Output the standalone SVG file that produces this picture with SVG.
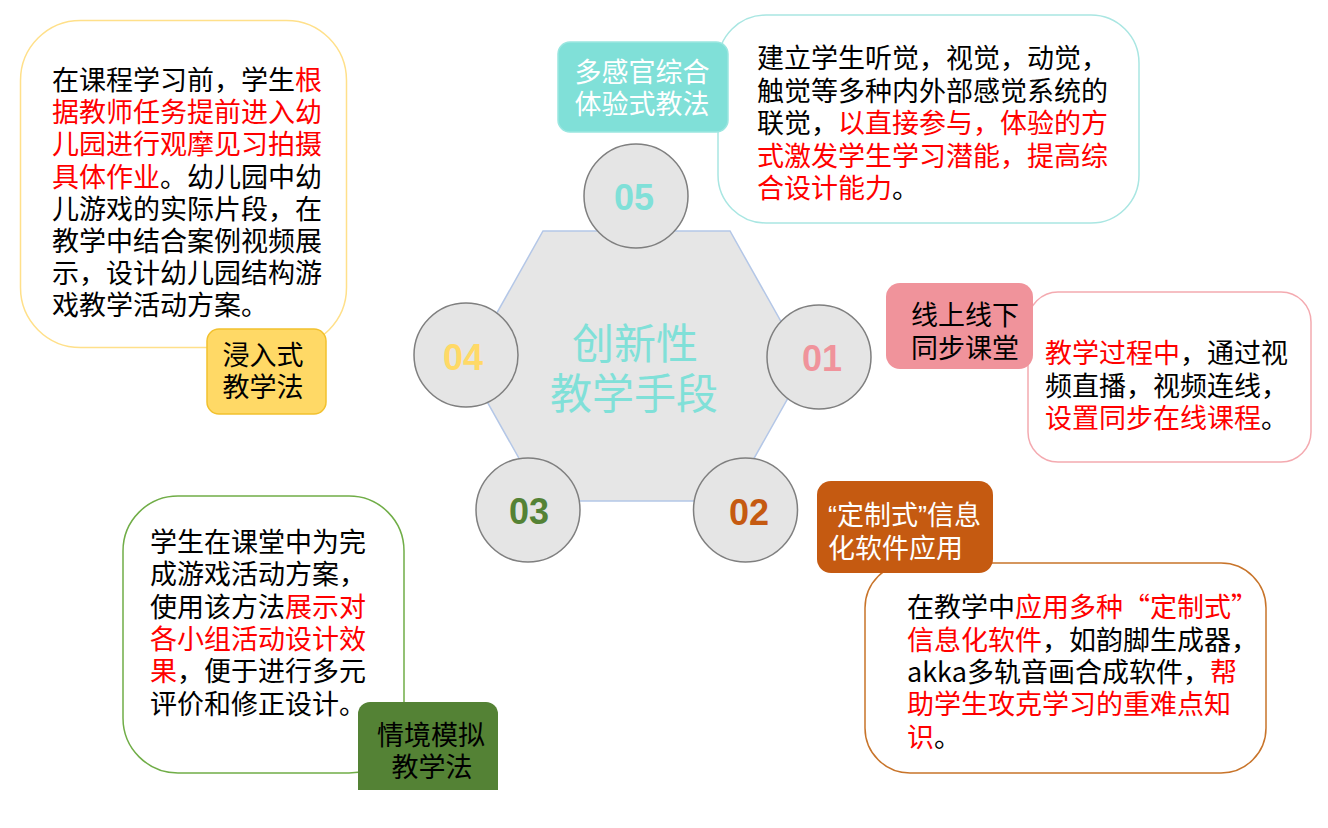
<svg xmlns="http://www.w3.org/2000/svg" width="1328" height="828" viewBox="0 0 1328 828">
<style>
.t{font-family:"Noto Sans CJK SC","Noto Sans",sans-serif;font-size:27px;fill:#000}
.r{fill:#FF0000}
.lab{font-family:"Noto Sans CJK SC",sans-serif;font-size:27px}
.mid{text-anchor:middle}
.num{font-family:"Liberation Sans",Arial,sans-serif;font-weight:bold;font-size:36px;text-anchor:middle}
.circ{fill:#E5E5E5;stroke:#7F7F7F;stroke-width:1.5}
.box{fill:#FFFFFF;stroke-width:1.5}
</style>
<defs>
<clipPath id="clipBottom"><rect x="0" y="0" width="1328" height="790"/></clipPath>
</defs>
<rect x="0" y="0" width="1328" height="828" fill="#FFFFFF"/>

<g id="connectors"></g>

<g id="center">
<polygon points="543,231 730,231 806,366 730,501 543,501 467,366" fill="#E6E6E6" stroke="#B4C7E7" stroke-width="1.5"/>
<text class="lab mid" x="635" y="359" style="font-size:42px;fill:#80E0D8">创新性</text>
<text class="lab mid" x="634" y="409" style="font-size:42px;fill:#80E0D8">教学手段</text>
</g>

<g id="circle-05">
<circle class="circ" cx="636" cy="196" r="52"/>
<text class="num" x="634" y="210" fill="#80E0D8">05</text>
</g>
<g id="circle-01">
<circle class="circ" cx="819" cy="357" r="52"/>
<text class="num" x="822" y="371" fill="#F0939B">01</text>
</g>
<g id="circle-02">
<circle class="circ" cx="745.5" cy="510" r="52"/>
<text class="num" x="749" y="525" fill="#C55A11">02</text>
</g>
<g id="circle-03">
<circle class="circ" cx="528" cy="510" r="52"/>
<text class="num" x="529" y="524" fill="#548235">03</text>
</g>
<g id="circle-04">
<circle class="circ" cx="466" cy="355" r="52"/>
<text class="num" x="463" y="370" fill="#FFD966">04</text>
</g>

<g id="node-04">
<rect class="box" x="20.5" y="20.5" width="326" height="327" rx="60" stroke="#FFE08A"/>
<text class="t">
<tspan x="52" y="90">在课程学习前，学生<tspan class="r">根</tspan></tspan>
<tspan x="52" y="122.2" class="r">据教师任务提前进入幼</tspan>
<tspan x="52" y="154.4" class="r">儿园进行观摩见习拍摄</tspan>
<tspan x="52" y="186.6"><tspan class="r">具体作业</tspan>。幼儿园中幼</tspan>
<tspan x="52" y="218.8">儿游戏的实际片段，在</tspan>
<tspan x="52" y="251">教学中结合案例视频展</tspan>
<tspan x="52" y="283.2">示，设计幼儿园结构游</tspan>
<tspan x="52" y="315.4">戏教学活动方案。</tspan>
</text>
<rect x="207" y="329" width="119" height="85" rx="12" fill="#FFD966" stroke="#F2C12E" stroke-width="1.5"/>
<text class="lab mid" x="263" y="365">浸入式</text>
<text class="lab mid" x="263" y="397">教学法</text>
</g>

<g id="node-05">
<rect class="box" x="718" y="15" width="421" height="208" rx="48" stroke="#A9E6E2"/>
<text class="t">
<tspan x="757" y="68">建立学生听觉，视觉，动觉，</tspan>
<tspan x="757" y="101">触觉等多种内外部感觉系统的</tspan>
<tspan x="757" y="133">联觉，<tspan class="r">以直接参与，体验的方</tspan></tspan>
<tspan x="757" y="166" class="r">式激发学生学习潜能，提高综</tspan>
<tspan x="757" y="198"><tspan class="r">合设计能力</tspan>。</tspan>
</text>
<rect x="558" y="42" width="170" height="90" rx="12" fill="#80E0D8" stroke="#9AE6E0" stroke-width="1.5"/>
<text class="lab mid" x="642" y="82" fill="#FFFFFF">多感官综合</text>
<text class="lab mid" x="642" y="114" fill="#FFFFFF">体验式教法</text>
</g>

<g id="node-01">
<rect class="box" x="1028" y="292" width="283" height="170" rx="30" stroke="#F4AAB0"/>
<text class="t">
<tspan x="1045" y="363"><tspan class="r">教学过程中</tspan>，通过视</tspan>
<tspan x="1045" y="395.5">频直播，视频连线，</tspan>
<tspan x="1045" y="428"><tspan class="r">设置同步在线课程</tspan>。</tspan>
</text>
<rect x="886" y="283" width="147" height="86" rx="14" fill="#F0939B"/>
<text class="lab mid" x="965" y="325">线上线下</text>
<text class="lab mid" x="965" y="358">同步课堂</text>
</g>

<g id="node-02">
<rect class="box" x="865" y="563" width="401" height="210" rx="45" stroke="#C8742A"/>
<text class="t">
<tspan x="907" y="617">在教学中<tspan class="r">应用多种“定制式”</tspan></tspan>
<tspan x="907" y="650"><tspan class="r">信息化软件</tspan>，如韵脚生成器，</tspan>
<tspan x="907" y="682">akka多轨音画合成软件，<tspan class="r">帮</tspan></tspan>
<tspan x="907" y="714" class="r">助学生攻克学习的重难点知</tspan>
<tspan x="907" y="747"><tspan class="r">识</tspan>。</tspan>
</text>
<rect x="817" y="481" width="176" height="92" rx="14" fill="#C55A11"/>
<text class="lab" x="828" y="525" fill="#FFFFFF" style="font-family:'Liberation Sans','Noto Sans CJK SC',sans-serif">“定制式”信息</text>
<text class="lab" x="828" y="558" fill="#FFFFFF">化软件应用</text>
</g>

<g id="node-03">
<rect class="box" x="123" y="496" width="281" height="277" rx="55" stroke="#70AD47"/>
<text class="t">
<tspan x="150" y="552">学生在课堂中为完</tspan>
<tspan x="150" y="584.3">成游戏活动方案，</tspan>
<tspan x="150" y="616.6">使用该方法<tspan class="r">展示对</tspan></tspan>
<tspan x="150" y="648.9" class="r">各小组活动设计效</tspan>
<tspan x="150" y="681.2"><tspan class="r">果</tspan>，便于进行多元</tspan>
<tspan x="150" y="713.5">评价和修正设计。</tspan>
</text>
<rect x="358" y="702" width="140" height="100" rx="12" fill="#548235" clip-path="url(#clipBottom)"/>
<text class="lab mid" x="431" y="745">情境模拟</text>
<text class="lab mid" x="432" y="777">教学法</text>
</g>
</svg>
